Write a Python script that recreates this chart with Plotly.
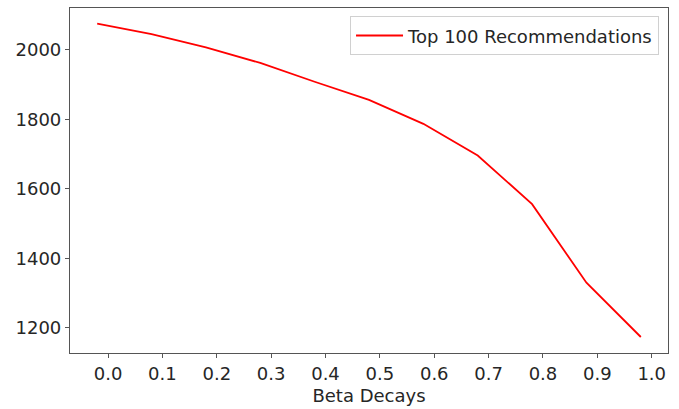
import plotly.graph_objects as go

beta = [-0.02, 0.08, 0.18, 0.28, 0.38, 0.48, 0.58, 0.68, 0.78, 0.88, 0.98]
top100 = [2075, 2045, 2007, 1962, 1908, 1856, 1787, 1696, 1556, 1330, 1174]
x_ticks = [0.0, 0.1, 0.2, 0.3, 0.4, 0.5, 0.6, 0.7, 0.8, 0.9, 1.0]
y_ticks = [1200, 1400, 1600, 1800, 2000]

FONT = "DejaVu Sans"
FS = 18
TXT = "#262626"
AX = "#555555"

fig = go.Figure()
fig.add_trace(go.Scatter(
    x=beta, y=top100, mode="lines", name="Top 100 Recommendations",
    line=dict(color="#ff0000", width=1.8),
))

axis_common = dict(
    showline=True, linecolor=AX, linewidth=1.2, mirror=True,
    ticks="outside", ticklen=4, tickcolor=AX, tickwidth=1,
    showgrid=False, zeroline=False,
    tickfont=dict(family=FONT, size=FS, color=TXT),
)

fig.update_layout(
    width=679, height=409,
    margin=dict(l=70, r=11, t=7, b=52),
    paper_bgcolor="white", plot_bgcolor="white",
    font=dict(family=FONT, size=FS, color=TXT),
    xaxis=dict(
        range=[-0.07, 1.03], tickvals=x_ticks, tickformat=".1f",
        title=dict(text="Beta Decays", font=dict(family=FONT, size=FS, color=TXT), standoff=6),
        **axis_common,
    ),
    yaxis=dict(
        range=[1128, 2120], tickvals=y_ticks,
        **axis_common,
    ),
    legend=dict(
        x=0.985, y=0.976, xanchor="right", yanchor="top",
        bgcolor="rgba(255,255,255,0.8)", bordercolor="#d0d0d0", borderwidth=1,
        itemwidth=47,
        font=dict(family=FONT, size=FS, color=TXT),
    ),
    showlegend=True,
)

fig.write_html(
    "out.html",
    config={"displayModeBar": False},
    post_script="document.body.style.margin='0';document.body.style.overflow='hidden';",
)
